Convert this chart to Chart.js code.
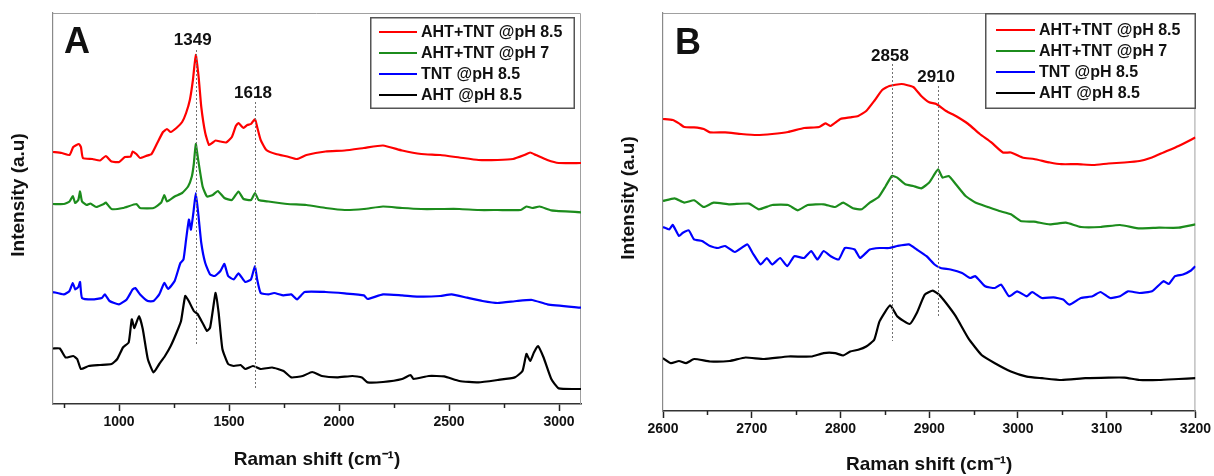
<!DOCTYPE html>
<html>
<head>
<meta charset="utf-8">
<title>Raman spectra</title>
<script src="https://cdn.jsdelivr.net/npm/chart.js@4.4.1/dist/chart.umd.min.js"></script>
<style>
  html, body { margin: 0; padding: 0; background: #fff; }
  #wrap { position: relative; width: 1214px; height: 476px; overflow: hidden; }
  .panel { position: absolute; top: 0; height: 476px; }
  #pa { left: 0; width: 600px; }
  #pb { left: 600px; width: 614px; }
</style>
</head>
<body>
<div id="wrap">
  <div class="panel" id="pa"><canvas id="ca" width="600" height="476"></canvas></div>
  <div class="panel" id="pb"><canvas id="cb" width="614" height="476"></canvas></div>
</div>
<script>
// ---------- series names ----------
const seriesNames = ['AHT+TNT @pH 8.5', 'AHT+TNT @pH 7', 'TNT @pH 8.5', 'AHT @pH 8.5'];
const seriesColors = ['#ff0000', '#1c8c1c', '#0000ff', '#000000'];

// ---------- panel A: full range spectra (offset, arbitrary units) ----------
const aMixPh85X = [700,740,775,792,818,827,836,879,914,940,966,1001,1027,1053,1062,1079,1096,1122,1148,1174,1200,1218,1235,1261,1287,1305,1322,1336,1349,1362,1374,1392,1409,1426,1439,1461,1487,1513,1531,1543,1566,1583,1600,1618,1628,1644,1670,1713,1765,1809,1852,1939,2026,2113,2200,2287,2374,2460,2547,2634,2721,2791,2843,2869,2895,2947,2999,3100];
const aMixPh85Y = [252,251,249,257,260,257,246,245,243.5,248,242.5,242,247,247.5,252.5,250,246,248,250,261,272,275,272,276,282,291,304,324,349,327,297,271,259,261.5,263.5,262.5,261.5,267,278,281,276,279,280,285,277,264,254,250,247.5,245,249,252.5,253.5,256,258.5,253.5,250,249,246.5,244,244,245,249,251.5,249,244,241,241];

const aMixPh7X = [700,749,775,790,801,815,823,832,853,870,896,931,940,966,1018,1079,1096,1157,1192,1206,1218,1253,1287,1314,1331,1340,1349,1360,1380,1400,1426,1449,1479,1513,1543,1566,1600,1618,1635,1679,1765,1852,1939,2026,2113,2200,2287,2374,2460,2547,2634,2721,2826,2852,2878,2912,2965,3100];
const aMixPh7Y = [200,200,202.5,208,201,204,212.5,202.5,199,200.5,197,200,201.5,195,196,200,196,196,201.5,209,202.5,207.5,211,217.5,227.5,240,260,244,217.5,207.5,209,213,206,204,212.5,205,204,211,204,202.5,200,199,196,194,195,197.5,196,195,195,195,194,194,194,197.5,196,197.5,193.7,191.7];

const aTntX = [700,749,775,790,801,815,823,832,879,922,936,957,1000,1035,1062,1074,1096,1131,1157,1183,1206,1223,1253,1279,1293,1305,1318,1327,1338,1349,1360,1374,1392,1414,1435,1461,1479,1496,1522,1543,1574,1600,1618,1628,1644,1679,1705,1748,1783,1809,1844,1939,2026,2113,2130,2200,2287,2374,2460,2512,2582,2652,2721,2808,2878,2947,3100];
const aTntY = [112,109.6,113,121,114.6,117,122,106,104.6,106,109.6,103,99.7,104.6,114.6,116,109.6,103,103,109.6,121,115,123,141,144.5,164.5,184.4,174.4,191,211,191,161,141,129.6,128,133,140,128,124.6,130.6,122,124.6,138,124.6,111,109.6,111,108.6,109.6,104.6,112,112,110.6,108.6,105,109.6,108.6,107.3,108,109.6,106.3,103,101,103,104,99.7,96.3];

const aAhtX = [700,731,757,792,810,827,862,914,966,992,1018,1044,1058,1070,1091,1108,1131,1157,1183,1209,1235,1261,1282,1301,1317,1340,1357,1380,1400,1414,1428,1439,1453,1470,1496,1522,1553,1574,1609,1644,1696,1748,1783,1835,1878,1922,1991,2061,2104,2130,2200,2287,2325,2339,2408,2478,2547,2634,2721,2799,2834,2852,2869,2886,2904,2930,2965,2999,3100];
const aAhtY = [55.5,55.5,46.5,48,45,35,38,39,40,45,56.5,61.5,84.7,76,88,75,45,31.6,40,48,58,71,83,108,103,93,90,81,73,76.4,96,111,91,55,40,38,39,35,38,35,36.5,33,26.6,28,32,28,26.6,28,26.6,21.6,22,25,29,25,28,27.6,23,21.6,24,26.6,33,50,43,51.5,58,46.5,25,15.6,15];

const aTickLabels = [1000, 1500, 2000, 2500, 3000];
const aMinorTicks = [750, 1250, 1750, 2250, 2750];
const aPeaks = [1349, 1618];

// ---------- panel B: C-H stretching region ----------
const bMixPh85X = [2600,2611,2618,2624,2635,2646,2653,2670,2688,2706,2723,2741,2759,2776,2783,2789,2800,2811,2820,2829,2838,2847,2855,2869,2882,2891,2900,2908,2919,2930,2944,2957,2970,2983,2992,3005,3018,3036,3049,3067,3085,3102,3120,3137,3151,3164,3181,3200];
const bMixPh85Y = [292,291,287.6,284,283.6,282,278.6,278.6,277,276,277,279,283,284,287.6,285,292,293.6,295,300,310,321,325,327,324,315,308.7,307,300,295,287,277,268.6,258.5,258.5,253.5,252,248.5,246.8,246.8,246,247.5,248.5,250,253.5,258.5,265,273.6];

const bMixPh7X = [2600,2613,2624,2635,2646,2657,2675,2697,2708,2723,2741,2752,2763,2781,2794,2803,2814,2824,2833,2843,2851,2858,2864,2873,2882,2891,2900,2906,2910,2915,2922,2930,2941,2952,2966,2979,2992,3003,3018,3036,3054,3071,3093,3115,3137,3159,3181,3200];
const bMixPh7Y = [210,212.7,208.4,210.7,204,208.4,206.7,207.4,201.7,206,206,200.7,206,206.7,204,208.4,202.7,201.7,208.4,214,225,235,233.4,226.8,225,222.7,228.4,236.8,241.8,233.4,235,226.8,215,208.4,204,200,196.7,190,189.3,186.6,188.3,184,184,186,182.6,183.3,183.3,186.6];

const bTntX = [2600,2607,2611,2618,2622,2629,2635,2644,2653,2662,2670,2681,2695,2701,2710,2717,2723,2732,2740,2748,2759,2767,2774,2781,2789,2798,2805,2816,2822,2833,2844,2855,2864,2877,2886,2897,2906,2913,2924,2937,2946,2952,2963,2974,2981,2990,2999,3010,3016,3027,3040,3051,3058,3071,3084,3093,3104,3115,3124,3137,3151,3164,3170,3177,3186,3195,3200];
const bTntY = [184,181.6,186,175,178,180.6,171.6,170,165,163,165,159,166.6,158,146.5,153,146.5,153,144.8,154.8,153,160,151.5,160,154.8,151.5,163,161.5,153,161.5,163,163,165,166.6,161.5,154.8,146.5,143,141.5,138,133,134.8,124.7,123,126.4,114.7,119.7,114.7,119,113,113.7,111.4,106.4,113,114.7,119,113,114.7,119.7,118,119.7,129.8,127,134.8,136.5,140.5,144.8];

const bAhtX = [2600,2609,2618,2626,2635,2653,2675,2693,2714,2741,2767,2781,2794,2803,2811,2820,2829,2838,2844,2856,2864,2878,2886,2895,2904,2911,2919,2930,2944,2959,2974,2992,3010,3027,3049,3076,3102,3120,3137,3159,3181,3200];
const bAhtY = [52.8,47.8,50,47.8,52,49.5,50,53.5,52,54.5,54.5,57.9,57.9,55.5,59.5,61.2,64.5,71.2,89.6,105.7,94.6,87,98,116.4,120.4,116.4,108,94.6,72.9,56,47.8,39.5,34.4,32.8,31,32.8,33.4,33.4,31,31,32,32.8];

const bTickLabels = [2600, 2700, 2800, 2900, 3000, 3100, 3200];
const bMinorTicks = [2650, 2750, 2850, 2950, 3050, 3150];
const bPeaks = [2858, 2910];

// ---------- shared drawing helpers ----------
const FONT = '"Liberation Sans", Arial, Helvetica, sans-serif';
const TEXT = '#111111';

function toPoints(xs, ys) {
  return xs.map((x, i) => ({ x: x, y: ys[i] }));
}

function buildDatasets(pairs) {
  return pairs.map((p, i) => ({
    label: seriesNames[i],
    data: toPoints(p[0], p[1]),
    borderColor: seriesColors[i],
    backgroundColor: seriesColors[i],
    borderWidth: 2.2,
    pointRadius: 0,
    tension: 0.15,
    fill: false
  }));
}

// frame, minor ticks, dotted peak markers, legend box, panel letter, y title
const panelDecor = {
  id: 'panelDecor',
  beforeDatasetsDraw(chart, args, o) {
    const { ctx, chartArea: a } = chart;
    const x = chart.scales.x;
    ctx.save();
    ctx.strokeStyle = '#a0a0a0';
    ctx.lineWidth = 1;
    ctx.beginPath();
    ctx.moveTo(a.left, a.top + 0.5);
    ctx.lineTo(a.right - 0.5, a.top + 0.5);
    ctx.lineTo(a.right - 0.5, a.bottom);
    ctx.stroke();

    ctx.strokeStyle = '#222';
    ctx.lineWidth = 1.5;
    o.minor.forEach(v => {
      const px = Math.round(x.getPixelForValue(v)) + 0.5;
      ctx.beginPath();
      ctx.moveTo(px, a.bottom);
      ctx.lineTo(px, a.bottom + 4);
      ctx.stroke();
    });
    ctx.restore();
  },
  afterDatasetsDraw(chart, args, o) {
    const { ctx } = chart;
    const x = chart.scales.x, y = chart.scales.y;
    ctx.save();
    ctx.setLineDash([2, 2]);
    ctx.strokeStyle = '#707070';
    ctx.lineWidth = 1;
    o.peaks.forEach(p => {
      const px = Math.round(x.getPixelForValue(p.value)) + 0.5;
      ctx.beginPath();
      ctx.moveTo(px, y.getPixelForValue(p.from));
      ctx.lineTo(px, y.getPixelForValue(p.to));
      ctx.stroke();
    });
    ctx.setLineDash([]);
    ctx.fillStyle = TEXT;
    ctx.font = 'bold 17px ' + FONT;
    ctx.textAlign = 'center';
    ctx.textBaseline = 'middle';
    o.peaks.forEach(p => {
      ctx.fillText(String(p.value), x.getPixelForValue(p.value) + p.dx, y.getPixelForValue(p.labelAt));
    });
    ctx.restore();
  },
  afterDraw(chart, args, o) {
    const { ctx } = chart;
    ctx.save();
    // panel letter
    ctx.fillStyle = TEXT;
    ctx.font = 'bold 36px ' + FONT;
    ctx.textAlign = 'center';
    ctx.textBaseline = 'middle';
    ctx.fillText(o.letter.text, o.letter.x, o.letter.y);

    // y axis title
    ctx.font = 'bold 19px ' + FONT;
    ctx.translate(o.yTitle.x, o.yTitle.y);
    ctx.rotate(-Math.PI / 2);
    ctx.fillText('Intensity (a.u)', 0, 0);
    ctx.restore();

    // legend
    const L = o.legend;
    ctx.save();
    ctx.fillStyle = '#ffffff';
    ctx.fillRect(L.left, L.top, L.right - L.left, L.bottom - L.top);
    ctx.strokeStyle = '#555';
    ctx.lineWidth = 1.5;
    ctx.strokeRect(L.left + 0.75, L.top + 0.75, L.right - L.left - 1.5, L.bottom - L.top - 1.5);
    ctx.font = 'bold 16px ' + FONT;
    ctx.textAlign = 'left';
    ctx.textBaseline = 'middle';
    chart.data.datasets.forEach((ds, i) => {
      const ry = L.row0 + i * L.rowStep;
      ctx.strokeStyle = ds.borderColor;
      ctx.lineWidth = 2;
      ctx.beginPath();
      ctx.moveTo(L.line0, ry);
      ctx.lineTo(L.line1, ry);
      ctx.stroke();
      ctx.fillStyle = TEXT;
      ctx.fillText(ds.label, L.text, ry + 1);
    });
    ctx.restore();
  }
};

function makePanel(canvasId, p) {
  const W = p.width, H = 476;
  return new Chart(document.getElementById(canvasId), {
    type: 'line',
    data: { datasets: buildDatasets(p.series) },
    plugins: [panelDecor],
    options: {
      responsive: false,
      animation: false,
      devicePixelRatio: 1,
      layout: { padding: { left: 0, top: p.area.top, right: W - p.area.right, bottom: 0 } },
      plugins: {
        legend: { display: false },
        tooltip: { enabled: false },
        panelDecor: {
          minor: p.minor,
          peaks: p.peaks,
          letter: p.letter,
          yTitle: p.yTitle,
          legend: p.legend
        }
      },
      scales: {
        x: {
          type: 'linear',
          min: p.xMin,
          max: p.xMax,
          afterBuildTicks: s => { s.ticks = p.ticks.map(v => ({ value: v })); },
          afterFit: s => { s.height = H - p.area.bottom; },
          ticks: {
            color: TEXT,
            font: { family: FONT, size: 14, weight: 'bold' },
            padding: 3,
            maxRotation: 0,
            autoSkip: false,
            callback: v => String(v)
          },
          grid: {
            display: true,
            drawOnChartArea: false,
            drawTicks: true,
            tickLength: 7,
            tickColor: '#222',
            tickWidth: 1.5
          },
          border: { display: true, color: '#333', width: 1.5 },
          title: {
            display: true,
            text: 'Raman shift (cm\u207B\u00B9)',
            color: TEXT,
            font: { family: FONT, size: 19, weight: 'bold' },
            padding: { top: 0, bottom: p.xTitlePad }
          }
        },
        y: {
          type: 'linear',
          min: 0,
          max: p.yMax,
          afterFit: s => { s.width = p.area.left; },
          ticks: { display: false },
          grid: { display: false },
          border: { display: true, color: '#8a8a8a', width: 1.2 }
        }
      }
    }
  });
}

makePanel('ca', {
  width: 600,
  area: { left: 53, top: 13, right: 581, bottom: 404 },
  xMin: 700, xMax: 3100, yMax: 391,
  ticks: aTickLabels,
  minor: aMinorTicks,
  series: [[aMixPh85X, aMixPh85Y], [aMixPh7X, aMixPh7Y], [aTntX, aTntY], [aAhtX, aAhtY]],
  peaks: [
    { value: aPeaks[0], from: 354, to: 58, labelAt: 364, dx: -3 },
    { value: aPeaks[1], from: 302, to: 16, labelAt: 311, dx: -2 }
  ],
  letter: { text: 'A', x: 77, y: 43 },
  yTitle: { x: 19, y: 195 },
  legend: { left: 370, top: 17, right: 575, bottom: 109, row0: 32, rowStep: 21, line0: 379, line1: 417, text: 421 },
  xTitlePad: 5
});

makePanel('cb', {
  width: 614,
  area: { left: 63, top: 13, right: 596, bottom: 411 },
  xMin: 2600, xMax: 3200, yMax: 398,
  ticks: bTickLabels,
  minor: bMinorTicks,
  series: [[bMixPh85X, bMixPh85Y], [bMixPh7X, bMixPh7Y], [bTntX, bTntY], [bAhtX, bAhtY]],
  peaks: [
    { value: bPeaks[0], from: 347, to: 70, labelAt: 355, dx: -2 },
    { value: bPeaks[1], from: 325, to: 93, labelAt: 334, dx: -2 }
  ],
  letter: { text: 'B', x: 88, y: 44 },
  yTitle: { x: 29, y: 198 },
  legend: { left: 385, top: 13, right: 596, bottom: 109, row0: 30, rowStep: 21, line0: 396, line1: 435, text: 439 },
  xTitlePad: 0
});
</script>
</body>
</html>
